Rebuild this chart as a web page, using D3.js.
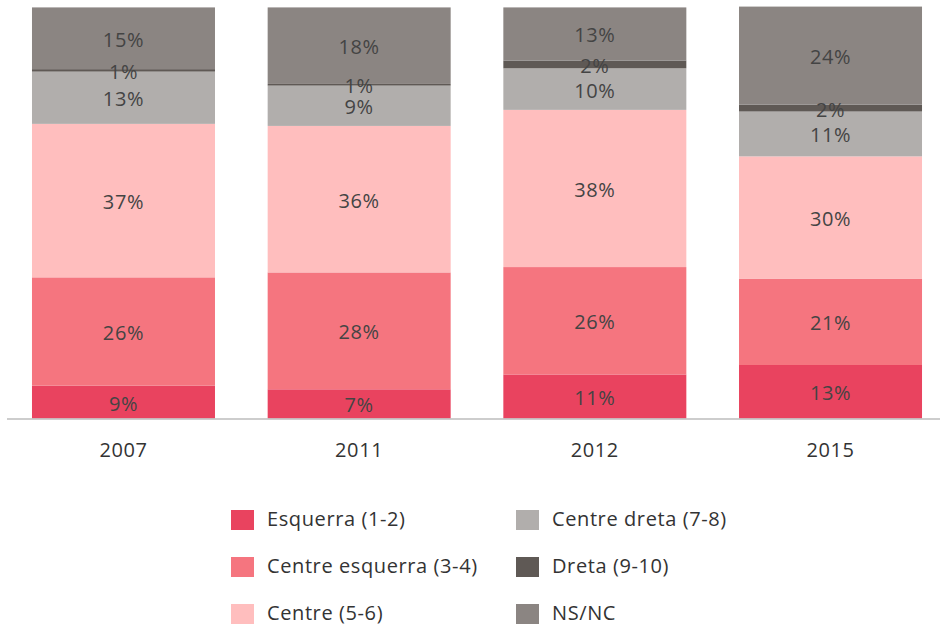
<!DOCTYPE html>
<html lang="ca">
<head>
<meta charset="UTF-8">
<title>Autoubicació ideològica</title>
<script src="https://d3js.org/d3.v7.min.js"></script>
<style>
    body { margin: 0; background: #fff; }
    svg text { font-family: "Open Sans", Lato, sans-serif; font-weight: 400; letter-spacing: 0.6px; }
</style>
</head>
<body>
<script>
    // categories
    var years = ["2007", "2011", "2012", "2015"];
    var seriesNames = ["Esquerra (1-2)", "Centre esquerra (3-4)", "Centre (5-6)",
                       "Centre dreta (7-8)", "Dreta (9-10)", "NS/NC"];
    var seriesColors = ["#e9435f", "#f5757f", "#ffbebe", "#b1aeac", "#5f5955", "#8b8582"];

    // shares as drawn (percent of each bar)
    var esquerra       = [8.0, 7.1, 10.7, 13.0];
    var centreEsquerra = [26.3, 28.4, 26.1, 21.0];
    var centre         = [37.3, 35.6, 38.2, 29.7];
    var centreDreta    = [12.7, 9.8, 10.1, 10.9];
    var dreta          = [0.6, 0.4, 1.9, 1.7];
    var nsnc           = [15.0, 18.6, 12.9, 23.8];

    // percentages printed on the bars
    var labelEsquerra       = [9, 7, 11, 13];
    var labelCentreEsquerra = [26, 28, 26, 21];
    var labelCentre         = [37, 36, 38, 30];
    var labelCentreDreta    = [13, 9, 10, 11];
    var labelDreta          = [1, 1, 2, 2];
    var labelNsnc           = [15, 18, 13, 24];

    var values = [esquerra, centreEsquerra, centre, centreDreta, dreta, nsnc];
    var labels = [labelEsquerra, labelCentreEsquerra, labelCentre, labelCentreDreta, labelDreta, labelNsnc];

    // build rows for d3.stack
    var rows = years.map(function (y, i) {
        var r = { year: y };
        seriesNames.forEach(function (s, k) { r[s] = values[k][i]; });
        return r;
    });

    var width = 940, height = 625;
    var svg = d3.select("body").append("svg")
        .attr("width", width)
        .attr("height", height);

    var x = d3.scaleBand().domain(years).range([7, 947])
        .paddingInner(0.2235).paddingOuter(0.106);
    var y = d3.scaleLinear().domain([0, 100]).range([418.5, 7]);
    var color = d3.scaleOrdinal().domain(seriesNames).range(seriesColors);

    var series = d3.stack().keys(seriesNames)(rows);

    var layers = svg.selectAll(".layer")
        .data(series)
        .enter().append("g")
        .attr("class", "layer")
        .attr("fill", function (d) { return color(d.key); });

    layers.selectAll("rect")
        .data(function (d) { return d; })
        .enter().append("rect")
        .attr("x", function (d) { return x(d.data.year); })
        .attr("y", function (d) { return y(d[1]); })
        .attr("width", x.bandwidth())
        .attr("height", function (d) { return y(d[0]) - y(d[1]); });

    // value labels
    series.forEach(function (s, k) {
        svg.append("g").selectAll("text")
            .data(s)
            .enter().append("text")
            .attr("x", function (d) { return x(d.data.year) + x.bandwidth() / 2; })
            .attr("y", function (d) { return (y(d[0]) + y(d[1])) / 2 + 1.5; })
            .attr("dy", "0.35em")
            .attr("text-anchor", "middle")
            .attr("font-size", 20)
            .attr("fill", "#444")
            .text(function (d, i) { return labels[k][i] + "%"; });
    });

    // x axis
    var xAxis = svg.append("g")
        .attr("transform", "translate(0," + y(0) + ")")
        .call(d3.axisBottom(x).tickSize(0).tickPadding(24));
    xAxis.select(".domain").attr("d", "M7,0.5H940").attr("stroke", "#bdbdbd").attr("stroke-width", 1.5);
    xAxis.selectAll("text")
        .attr("font-size", 20)
        .attr("fill", "#333")
        .style("font-family", "'Open Sans', Lato, sans-serif")
        .style("font-weight", 400);

    // legend
    var legend = svg.append("g");
    var item = legend.selectAll("g")
        .data(seriesNames)
        .enter().append("g")
        .attr("transform", function (d, i) {
            var col = Math.floor(i / 3), row = i % 3;
            return "translate(" + (231 + col * 285) + "," + (520 + row * 47) + ")";
        });
    item.append("rect")
        .attr("x", 0).attr("y", -10)
        .attr("width", 23).attr("height", 20)
        .attr("fill", function (d) { return color(d); });
    item.append("text")
        .attr("x", 36)
        .attr("dy", "0.32em")
        .attr("font-size", 20)
        .attr("fill", "#333")
        .text(function (d) { return d; });
</script>
</body>
</html>
